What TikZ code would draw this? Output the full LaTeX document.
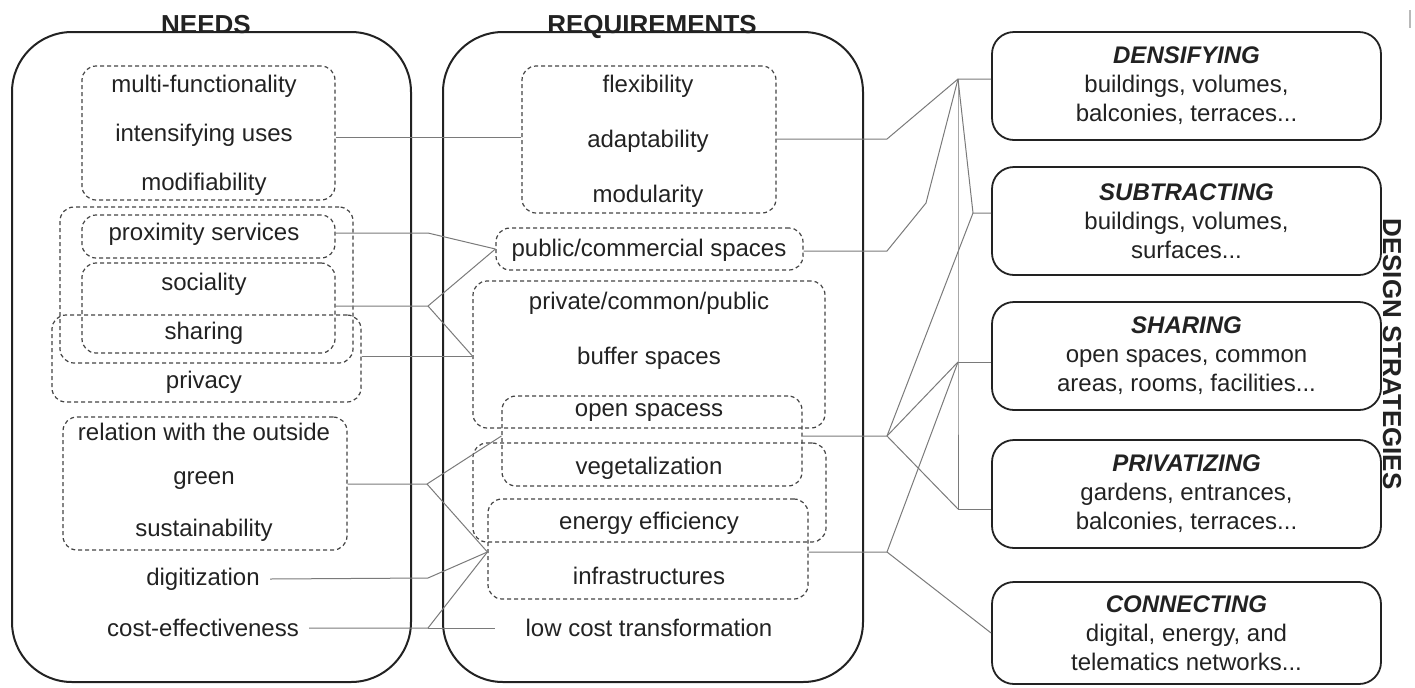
\documentclass[tikz,border=0pt]{standalone}
\usepackage{fontspec}
\setmainfont{Liberation Sans}
\usetikzlibrary{fit}
\definecolor{ink}{HTML}{222222}
\definecolor{wiregray}{HTML}{7A7A7A}
\tikzset{
 big/.style={draw=ink, line width=1pt, rounded corners=30pt, inner sep=0pt},
 grp/.style={draw=ink!85, line width=0.6pt, dash pattern=on 2pt off 1.5pt, rounded corners=7pt, inner sep=0pt},
 strat/.style={draw=ink, line width=0.9pt, rounded corners=11pt, minimum width=194.5pt, minimum height=54pt, align=center, text=ink, font=\fontsize{12}{14.5}\selectfont},
 lbl/.style={font=\fontsize{12}{14}\selectfont, text=ink, inner sep=5pt},
 head/.style={font=\fontsize{13}{15}\selectfont\bfseries, text=ink, anchor=base},
 link/.style={draw=wiregray, line width=0.5pt},
}

\begin{document}
\begin{tikzpicture}[x=0.5pt,y=-0.5pt]
\useasboundingbox (0,0) rectangle (1415,687);

%col-1 needs
\node[big, fit={(12,32)(411,682)}] (needsB) {};
\node[head] (needsT) at (206,33) {NEEDS};
\node[grp, fit={(82,66)(335,200)}] (multN) {};
\node[grp, fit={(82,215)(335,258)}] (proxN) {};
\node[grp, fit={(82,263)(335,353)}] (socN) {};
\node[grp, fit={(60,207)(353,363)}] (commN) {};
\node[grp, fit={(52,315)(361,402)}] (privN) {};
\node[grp, fit={(63,417)(347,550)}] (greenN) {};
\node[lbl] (multT) at (204,86) {multi-functionality};
\node[lbl] (intT) at (204,135) {intensifying uses};
\node[lbl] (modT) at (204,184) {modifiability};
\node[lbl] (proxT) at (204,234) {proximity services};
\node[lbl] (socT) at (204,284) {sociality};
\node[lbl] (sharT) at (204,333) {sharing};
\node[lbl] (privT) at (204,382) {privacy};
\node[lbl] (relT) at (204,432) {relation with the outside};
\node[lbl] (greenT) at (204,481) {green};
\node[lbl] (sustT) at (204,530) {sustainability};
\node[lbl] (digT) at (203,579) {digitization};
\node[lbl] (costT) at (203,628) {cost-effectiveness};

%col-2 requirements
\node[big, fit={(443,32)(863,682)}] (reqB) {};
\node[head] (reqT) at (652,33) {REQUIREMENTS};
\node[grp, fit={(522,66)(776,213)}] (flexN) {};
\node[grp, fit={(496,228)(803,270)}] (pubN) {};
\node[grp, fit={(473,281)(825,428)}] (bufN) {};
\node[grp, fit={(502,396)(802,486)}] (openN) {};
\node[grp, fit={(473,443)(826,542)}] (vegN) {};
\node[grp, fit={(488,499)(808,599)}] (infN) {};
\node[lbl] (flexT) at (648,86) {flexibility};
\node[lbl] (adaT) at (648,141) {adaptability};
\node[lbl] (moduT) at (648,196) {modularity};
\node[lbl] (pubT) at (649,250) {public/commercial spaces};
\node[lbl] (pcpT) at (649,303) {private/common/public};
\node[lbl] (bufT) at (649,358) {buffer spaces};
\node[lbl] (openT) at (649,413) {open spacess};
\node[lbl] (vegT) at (649,468) {vegetalization};
\node[lbl] (enT) at (649,523) {energy efficiency};
\node[lbl] (infT) at (649,576) {infrastructures};
\node[lbl] (lowT) at (649,628) {low cost transformation};

%col-3 strategies
\node[strat] (densS) at (1186.5,86) {{\bfseries\itshape DENSIFYING}\\buildings, volumes,\\balconies, terraces...};
\node[strat] (subS) at (1186.5,221) {{\bfseries\itshape SUBTRACTING}\\buildings, volumes,\\surfaces...};
\node[strat] (sharS) at (1186.5,356) {{\bfseries\itshape SHARING}\\open spaces, common\\areas, rooms, facilities...};
\node[strat] (privS) at (1186.5,494) {{\bfseries\itshape PRIVATIZING}\\gardens, entrances,\\balconies, terraces...};
\node[strat, minimum height=51pt] (connS) at (1186.5,633) {{\bfseries\itshape CONNECTING}\\digital, energy, and\\telematics networks...};
\node[head, anchor=center, rotate=-90] (dsT) at (1392,354) {DESIGN STRATEGIES};
\draw[gray!55, line width=0.8pt] (1410,10) -- (1410,28);

%needs -> requirements
\coordinate (jMod) at (450,137);
\coordinate (jProx) at (428,233);
\coordinate (jSoc) at (428,306);
\coordinate (jPriv) at (428,356);
\coordinate (jGreen) at (427,484);
\coordinate (jDig) at (428,578);
\coordinate (jCost) at (428,628);
\coordinate (jOpen) at (887,436);
\coordinate (jInf) at (887,552);
\draw[link] (multN.east |- jMod) -- (flexN.west |- jMod);
\draw[link] (proxN.east |- jProx) -- (jProx) -- (pubN.west);
\draw[link] (socN.east |- jSoc) -- (jSoc) -- (pubN.west);
\draw[link] (jSoc) -- (bufN.west |- jPriv);
\draw[link] (privN.east |- jPriv) -- (bufN.west |- jPriv);
\draw[link] (greenN.east |- jGreen) -- (jGreen) -- (openN.west |- jOpen);
\draw[link] (jGreen) -- (infN.west |- jInf);
\draw[link] (digT.east) -- (jDig) -- (infN.west |- jInf);
\draw[link] (costT.east) -- (jCost) -- (infN.west |- jInf);
\draw[link, shorten >=10pt] (jCost) -- (lowT.west);

%requirements -> strategies
\coordinate (jAda) at (887,139);
\coordinate (jPub) at (887,251);
\coordinate (kPub) at (926,203);
\coordinate (hDens) at (958,79);
\coordinate (hSub) at (973,213);
\coordinate (hShar) at (958,362);
\coordinate (hPriv) at (958,509);
\draw[link] (flexN.east |- jAda) -- (jAda) -- (hDens) -- (densS.west |- hDens);
\draw[link] (pubN.east |- jPub) -- (jPub) -- (kPub) -- (hDens);
\draw[link] (hDens) -- (hSub) -- (subS.west |- hSub);
\draw[link] (hDens) -- (hShar) -- (hPriv);
\draw[link] (hShar) -- (sharS.west |- hShar);
\draw[link] (hPriv) -- (privS.west |- hPriv);
\draw[link] (openN.east |- jOpen) -- (jOpen) -- (hSub);
\draw[link] (jOpen) -- (hShar);
\draw[link] (jOpen) -- (hPriv);
\draw[link] (infN.east |- jInf) -- (jInf) -- (hShar);
\draw[link] (jInf) -- (connS.west);
\end{tikzpicture}
\end{document}
